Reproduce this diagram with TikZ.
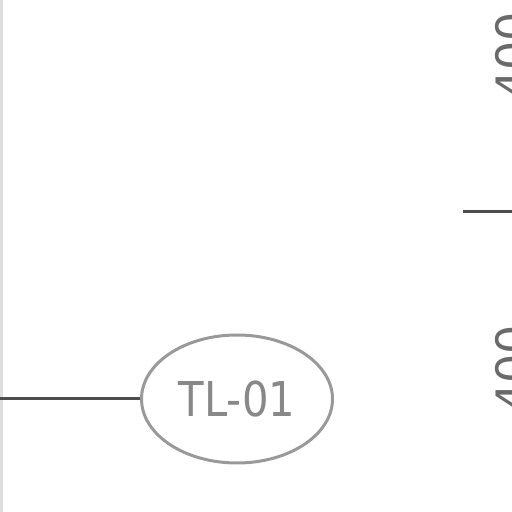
\documentclass[tikz,border=0pt]{standalone}
\usepackage{fontspec}
\newfontfamily\narrowfont[FakeStretch=0.87]{DejaVu Sans}
\newfontfamily\dimfont{DejaVu Sans}
\usetikzlibrary{shapes.geometric}
\definecolor{linegray}{HTML}{4D4D4D}
\definecolor{ellgray}{HTML}{999999}
\definecolor{txtgray}{HTML}{888888}
\definecolor{dimgray}{HTML}{6A6A6A}
\definecolor{stripgray}{HTML}{DEDEDE}
\tikzset{
  darkline/.style={draw=linegray, line width=3pt},
  tagbox/.style={ellipse, draw=ellgray, line width=3pt, minimum width=191pt, minimum height=128pt, inner sep=0pt, text=txtgray, font=\narrowfont\fontsize{48}{48}\selectfont},
  dimtext/.style={rotate=90, anchor=base, inner sep=0pt, text=dimgray, font=\dimfont\fontsize{46}{46}\selectfont}
}
\begin{document}
\begin{tikzpicture}[x=1pt,y=1pt]
\useasboundingbox (0,0) rectangle (512,512);
\fill[stripgray] (0,0) rectangle (3,512);
\node[tagbox] (tag) at (237,113) {TL-01};
\coordinate (lineStart) at (0,113);
\draw[darkline] (lineStart) -- (tag.west);
\coordinate (tickA) at (463,300);
\coordinate (tickB) at (512,300);
\draw[darkline] (tickA) -- (tickB);
\node[dimtext] (dimTop) at (529,456) {400};
\node[dimtext] (dimBot) at (529,143) {400};
\end{tikzpicture}
\end{document}
